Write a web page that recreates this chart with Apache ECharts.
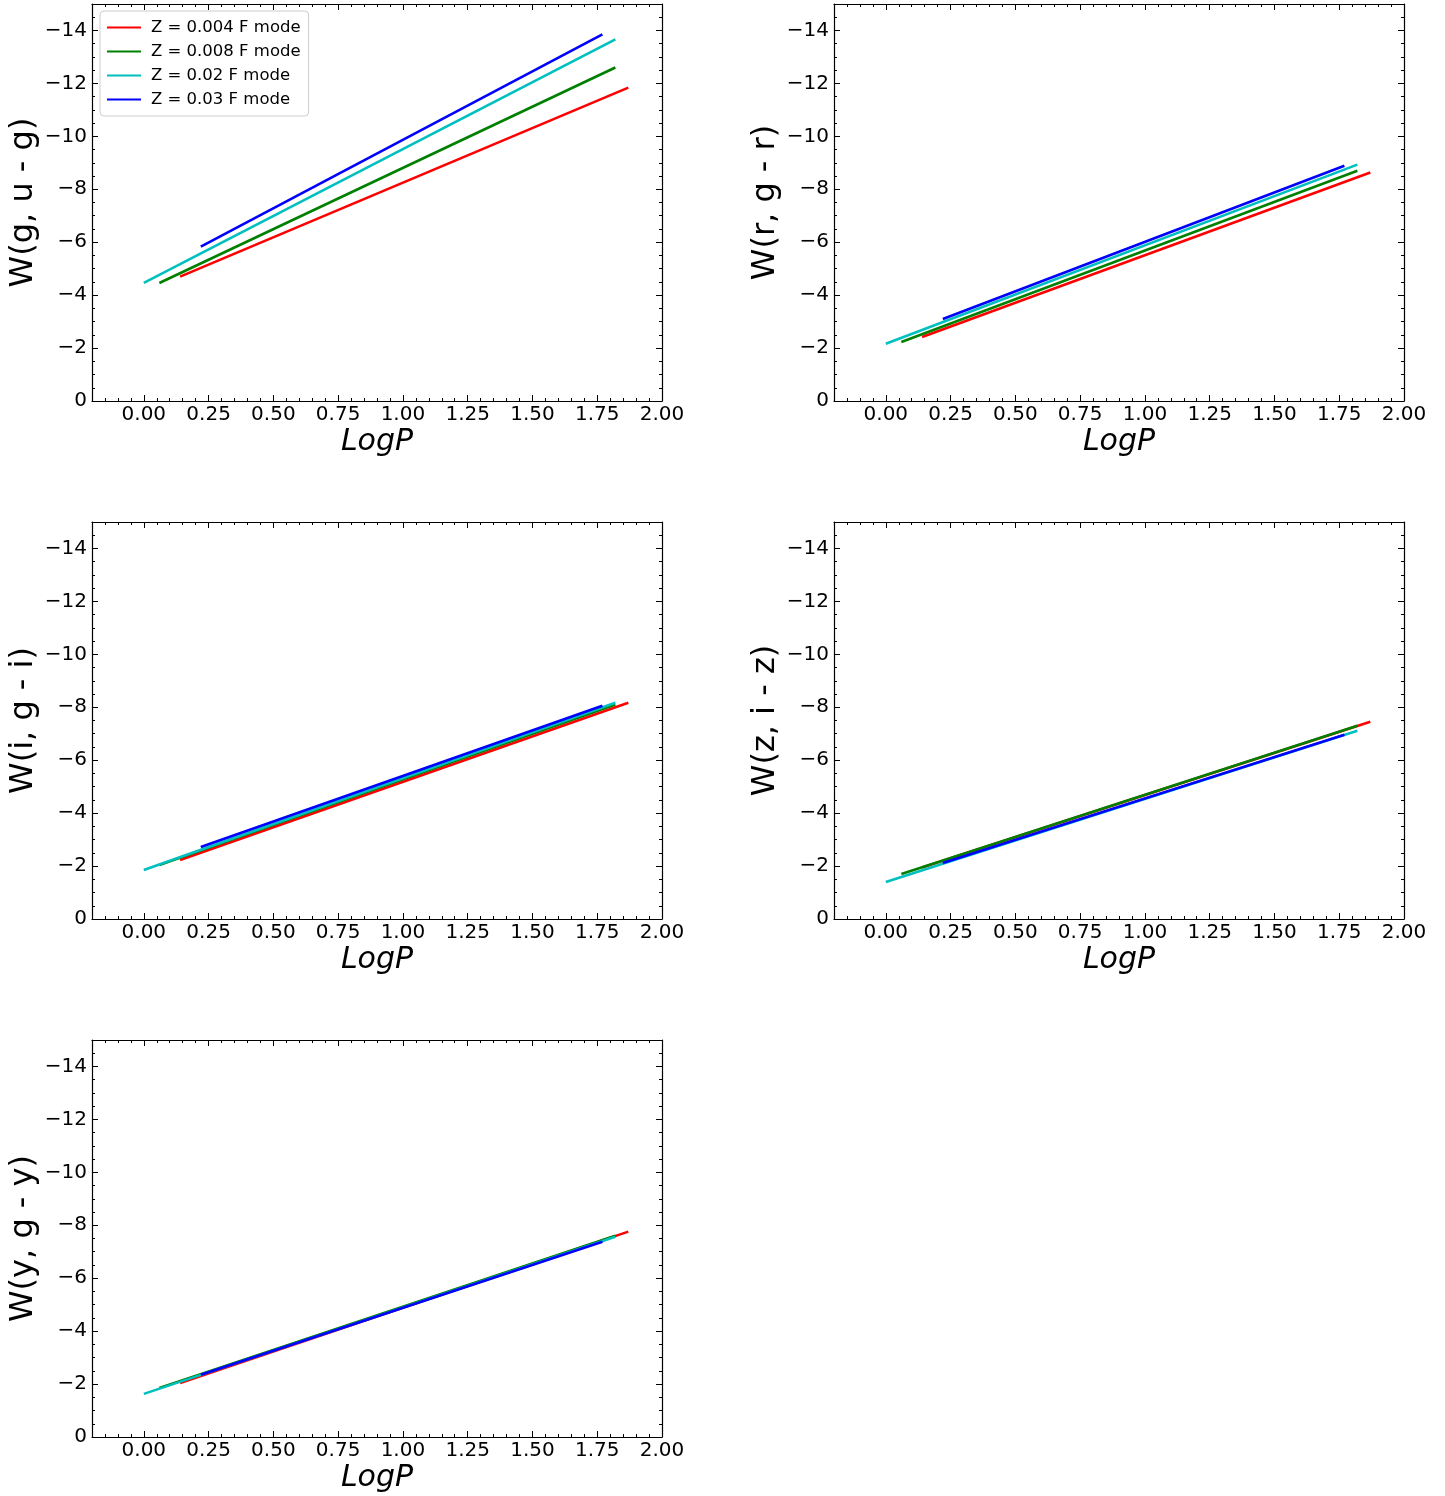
<!DOCTYPE html>
<html lang="en">
<head>
    <meta charset="UTF-8">
    <title>Wesenheit PL relations</title>
    <script src="https://cdn.jsdelivr.net/npm/echarts@6/dist/echarts.min.js"></script>
    <style>
        html, body { margin: 0; padding: 0; background: #fff; }
    </style>
</head>
<body>
<div id="main" style="width: 1445px;height:1496px;"></div>
<script type="text/javascript">
    // series names and colours
    var zNames = ['Z = 0.004 F mode', 'Z = 0.008 F mode', 'Z = 0.02 F mode', 'Z = 0.03 F mode'];
    var zColors = ['#ff0000', '#008000', '#00bfbf', '#0000ff'];

    // LogP range covered by each metallicity
    var logPStart = [0.14, 0.06, 0.0, 0.22];
    var logPEnd = [1.87, 1.82, 1.82, 1.77];

    // Wesenheit magnitudes at the start / end of each line
    var wGugStart = [-4.70, -4.46, -4.46, -5.83];
    var wGugEnd = [-11.84, -12.60, -13.66, -13.85];
    var wRgrStart = [-2.42, -2.23, -2.16, -3.10];
    var wRgrEnd = [-8.63, -8.70, -8.93, -8.89];
    var wIgiStart = [-2.23, -2.04, -1.85, -2.72];
    var wIgiEnd = [-8.17, -8.10, -8.17, -8.06];
    var wZizStart = [-1.95, -1.70, -1.40, -2.12];
    var wZizEnd = [-7.45, -7.30, -7.11, -6.96];
    var wYgyStart = [-2.04, -1.85, -1.63, -2.35];
    var wYgyEnd = [-7.76, -7.60, -7.57, -7.38];

    var panelTitles = ['W(g, u - g)', 'W(r, g - r)', 'W(i, g - i)', 'W(z, i - z)', 'W(y, g - y)'];
    var panelStart = [wGugStart, wRgrStart, wIgiStart, wZizStart, wYgyStart];
    var panelEnd = [wGugEnd, wRgrEnd, wIgiEnd, wZizEnd, wYgyEnd];

    // tick labels
    var xTicks = [0, 0.25, 0.5, 0.75, 1.0, 1.25, 1.5, 1.75, 2.0];
    var yTicks = [-14, -12, -10, -8, -6, -4, -2, 0];

    var font = 'DejaVu Sans';
    var gridPos = [[92, 4], [834, 4], [92, 522], [834, 522], [92, 1040]];

    var grids = [], xAxes = [], yAxes = [], series = [];

    function xAxis(g, pos, major, withLabel) {
        var a = {
            gridIndex: g, type: 'value', position: pos, min: -0.2, max: 2.0,
            splitLine: {show: false},
            axisLine: {show: major, onZero: false, lineStyle: {color: '#000', width: 1.2}},
            axisTick: {show: true, inside: true, length: major ? 6 : 3, lineStyle: {color: '#000', width: 1}},
            axisLabel: {show: false}
        };
        if (major) {
            a.axisTick.customValues = xTicks;
        } else {
            a.interval = 0.05;
        }
        if (withLabel) {
            a.axisLabel = {
                show: true, customValues: xTicks, margin: 4,
                fontFamily: font, fontSize: 20, color: '#000',
                formatter: function (v) { return v.toFixed(2); }
            };
            a.name = 'LogP';
            a.nameLocation = 'middle';
            a.nameGap = 26;
            a.nameTextStyle = {fontFamily: font, fontSize: 30, fontStyle: 'italic', color: '#000'};
        }
        return a;
    }

    function yAxis(g, pos, major, title) {
        var a = {
            gridIndex: g, type: 'value', position: pos, min: -15, max: 0, inverse: true,
            splitLine: {show: false},
            axisLine: {show: major, onZero: false, lineStyle: {color: '#000', width: 1.2}},
            axisTick: {show: true, inside: true, length: major ? 6 : 3, lineStyle: {color: '#000', width: 1}},
            axisLabel: {show: false}
        };
        if (major) {
            a.axisTick.customValues = yTicks;
        } else {
            a.interval = 0.5;
        }
        if (title) {
            a.axisLabel = {
                show: true, customValues: yTicks, margin: 5,
                fontFamily: font, fontSize: 20, color: '#000',
                formatter: function (v) { return v === 0 ? '0' : '\u2212' + Math.abs(v); }
            };
            a.name = title;
            a.nameLocation = 'middle';
            a.nameRotate = 90;
            a.nameGap = 52;
            a.nameTextStyle = {fontFamily: font, fontSize: 32, color: '#000'};
        }
        return a;
    }

    for (var p = 0; p < 5; p++) {
        grids.push({left: gridPos[p][0], top: gridPos[p][1], width: 570, height: 397});
        xAxes.push(xAxis(p, 'bottom', true, true));
        xAxes.push(xAxis(p, 'bottom', false, false));
        xAxes.push(xAxis(p, 'top', true, false));
        xAxes.push(xAxis(p, 'top', false, false));
        yAxes.push(yAxis(p, 'left', true, panelTitles[p]));
        yAxes.push(yAxis(p, 'left', false, null));
        yAxes.push(yAxis(p, 'right', true, null));
        yAxes.push(yAxis(p, 'right', false, null));

        for (var k = 0; k < 4; k++) {
            series.push({
                name: zNames[k],
                type: 'line',
                xAxisIndex: p * 4,
                yAxisIndex: p * 4,
                data: [[logPStart[k], panelStart[p][k]], [logPEnd[k], panelEnd[p][k]]],
                symbol: 'none',
                color: zColors[k],
                lineStyle: {color: zColors[k], width: 2.6},
                silent: true
            });
        }
    }

    var myChart = echarts.init(document.getElementById('main'));
    var option = {
        backgroundColor: '#fff',
        animation: false,
        legend: {
            data: zNames,
            orient: 'vertical',
            left: 100,
            top: 11,
            padding: [8, 8, 8, 7],
            itemGap: 7,
            itemWidth: 34,
            itemHeight: 2,
            icon: 'rect',
            borderColor: '#cccccc',
            borderWidth: 1,
            borderRadius: 4,
            backgroundColor: 'rgba(255,255,255,0.8)',
            textStyle: {fontFamily: font, fontSize: 16.5, color: '#000', padding: [0, 0, 0, 5]}
        },
        grid: grids,
        xAxis: xAxes,
        yAxis: yAxes,
        series: series
    };
    myChart.setOption(option);
</script>
</body>
</html>
